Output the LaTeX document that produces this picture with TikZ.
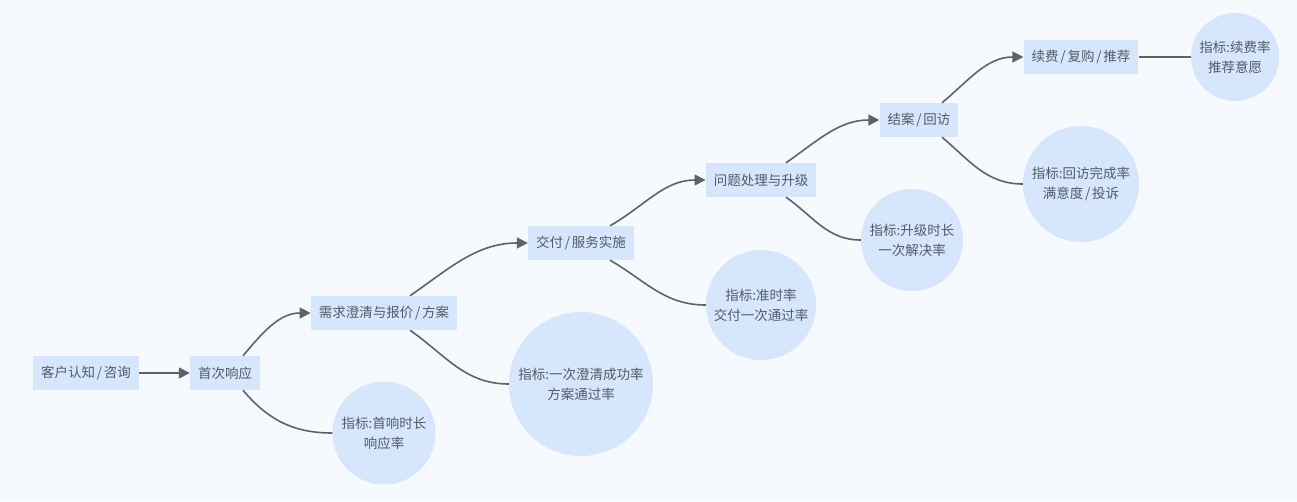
\documentclass[tikz,border=0pt]{standalone}
\usepackage{fontspec}
\setmainfont{Noto Sans CJK SC}
\usepackage{tikz}
\usetikzlibrary{arrows.meta, positioning}
\definecolor{bgblue}{HTML}{F6FAFF}
\definecolor{fillblue}{HTML}{D5E6FD}
\definecolor{textgray}{HTML}{555B64}
\definecolor{linegray}{HTML}{5C636D}
\newcommand{\stsep}{\kern1.8pt/\kern1.8pt}

\begin{document}
\begin{tikzpicture}
        [
            x=1pt, y=-1pt,
            font=\fontsize{13.5pt}{20pt}\selectfont,
            stage/.style={fill=fillblue, text=textgray, minimum height=34pt, inner xsep=8pt, inner ysep=0pt},
            metric/.style={circle, fill=fillblue, text=textgray, align=center, inner sep=0pt},
            link/.style={draw=linegray, line width=1.6pt},
            linkarrow/.style={link, -{Triangle[length=11pt,width=11pt]}},
        ]
        \fill[bgblue] (0,0) rectangle (1297,501);
        \useasboundingbox (0,0) rectangle (1297,501);

        % stages
        \node[stage] (s1) at (86,373) {客户认知\stsep 咨询};
        \node[stage] (s2) at (225,373) {首次响应};
        \node[stage] (s3) at (384,313) {需求澄清与报价\stsep 方案};
        \node[stage] (s4) at (581,243) {交付\stsep 服务实施};
        \node[stage] (s5) at (761,180) {问题处理与升级};
        \node[stage] (s6) at (919,120) {结案\stsep 回访};
        \node[stage] (s7) at (1081,57) {续费\stsep 复购\stsep 推荐};

        % metrics
        \node[metric, minimum size=103pt] (m2) at (384,433) {指标:首响时长\\响应率};
        \node[metric, minimum size=144pt] (m3) at (581,384) {指标:一次澄清成功率\\方案通过率};
        \node[metric, minimum size=110pt] (m4) at (761,305) {指标:准时率\\交付一次通过率};
        \node[metric, minimum size=102pt] (m5) at (912,240) {指标:升级时长\\一次解决率};
        \node[metric, minimum size=116pt] (m6) at (1081,184) {指标:回访完成率\\满意度\stsep 投诉};
        \node[metric, minimum size=88pt] (m7) at (1235,57) {指标:续费率\\推荐意愿};

        % flow
        \draw[linkarrow] (s1) -- (s2);
        \draw[linkarrow] ([xshift=18pt]s2.north) to[out=50, in=180] (s3.west);
        \draw[linkarrow] ([xshift=26pt]s3.north) to[out=35, in=180] (s4.west);
        \draw[linkarrow] ([xshift=29pt]s4.north) to[out=30, in=180] (s5.west);
        \draw[linkarrow] ([xshift=25pt]s5.north) to[out=35, in=180] (s6.west);
        \draw[linkarrow] ([xshift=23pt]s6.north) to[out=40, in=180] (s7.west);

        % metric links
        \draw[link] ([xshift=18pt]s2.south) to[out=-50, in=180] (m2.west);
        \draw[link] ([xshift=26pt]s3.south) to[out=-35, in=180] (m3.west);
        \draw[link] ([xshift=29pt]s4.south) to[out=-30, in=180] (m4.west);
        \draw[link] ([xshift=25pt]s5.south) to[out=-35, in=180] (m5.west);
        \draw[link] ([xshift=23pt]s6.south) to[out=-40, in=180] (m6.west);
        \draw[link] (s7) -- (m7);
    \end{tikzpicture}
\end{document}
